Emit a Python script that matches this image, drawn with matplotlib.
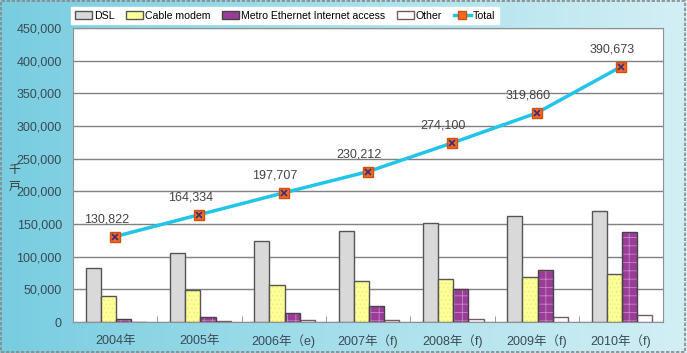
import numpy as np
import matplotlib
matplotlib.use("Agg")
import matplotlib.pyplot as plt
from matplotlib.patches import Patch, Rectangle
from matplotlib.lines import Line2D
from matplotlib.ticker import FuncFormatter
from matplotlib.colors import LinearSegmentedColormap

plt.rcParams["font.family"] = ["Liberation Sans", "Noto Sans CJK JP", "DejaVu Sans"]
plt.rcParams["hatch.linewidth"] = 0.6

years = ["2004年", "2005年", "2006年（e)", "2007年（f)", "2008年（f)", "2009年（f)", "2010年（f)"]
dsl = [82500, 105000, 123400, 138800, 151600, 161800, 169500]
cable = [40000, 48700, 56300, 62000, 66000, 69000, 73200]
metro = [4600, 7700, 13800, 24500, 50200, 80000, 137200]
other = [500, 1500, 3000, 3500, 5100, 7200, 10700]
total = [130822, 164334, 197707, 230212, 274100, 319860, 390673]

series = [
    ("DSL", dsl, "#d9d9d9", None, None, "#555555"),
    ("Cable modem", cable, "#ffff99", "....", "#eeee77", "#555555"),
    ("Metro Ethernet Internet access", metro, "#9a3c98", "++", "#c58ac5", "#444444"),
    ("Other", other, "#ffffff", None, None, "#7a5a6a"),
]

fig = plt.figure(figsize=(6.87, 3.53), dpi=100)

# background gradient
bg = fig.add_axes([0, 0, 1, 1], zorder=-10)
grad = np.linspace(0, 1, 256).reshape(1, -1)
cmap = LinearSegmentedColormap.from_list("bg", ["#78cde0", "#a6dfeb", "#d3eff5"])
bg.imshow(grad, aspect="auto", cmap=cmap, extent=[0, 1, 0, 1])
bg.add_patch(Rectangle((0.002, 0.003), 0.995, 0.993, fill=False, ec="#888888",
                       ls=(0, (2, 1)), lw=1.2, transform=bg.transAxes))
bg.axis("off")

ax = fig.add_axes([0.1063, 0.0878, 0.859, 0.833])
ax.set_facecolor("white")
x = np.arange(len(years))
w = 0.18
for i, (name, vals, fc, hatch, hc, ec) in enumerate(series):
    pos = x + (i - 1.5) * w + 0.01
    if hatch:
        ax.bar(pos, vals, w, color=fc, hatch=hatch, edgecolor=hc, linewidth=0, zorder=3)
        ax.bar(pos, vals, w, fill=False, edgecolor=ec, linewidth=1, zorder=4)
    else:
        ax.bar(pos, vals, w, color=fc, edgecolor=ec, linewidth=1, zorder=3)

ax.plot(x, total, color="#22c4e8", lw=2.5, zorder=5)
ax.plot(x, total, "s", color="#f26b21", ms=7, mec="#d05010", zorder=6)
ax.plot(x, total, "x", color="#3a2a80", ms=5, mew=1.2, zorder=7)
for xi, t in zip(x, total):
    ax.annotate(f"{t:,}", (xi, t), xytext=(-9, 11), textcoords="offset pixels",
                ha="center", va="bottom", fontsize=9, color="#444444")

ax.set_xlim(-0.5, len(years) - 0.5)
ax.set_ylim(0, 450000)
ax.set_yticks(np.arange(0, 450001, 50000))
ax.yaxis.set_major_formatter(FuncFormatter(lambda v, p: f"{int(v):,}"))
ax.grid(axis="y", color="#808080", lw=1, zorder=1)
ax.set_xticks(x)
ax.set_xticklabels(years)
ax.set_xticks(np.arange(0.5, len(years) - 0.5), minor=True)
ax.tick_params(axis="x", which="major", length=0, pad=9, labelsize=9, labelcolor="#3a4a55")
ax.tick_params(axis="x", which="minor", length=4, direction="in", color="#888888")
ax.tick_params(axis="y", length=0, pad=8, labelsize=9, labelcolor="#3a4a55")
for s in ax.spines.values():
    s.set_color("#909090")

fig.text(0.012, 0.495, "千\n戸", fontsize=8.5, color="#333333", va="center", ha="left",
         linespacing=1.5)

handles = [Patch(facecolor=fc, edgecolor=ec) for _, _, fc, _, _, ec in series]
handles.append(Line2D([0], [0], color="#22c4e8", lw=2.5, marker="s", mfc="#f26b21",
                      mec="#d05010", ms=6))
labels = [s[0] for s in series] + ["Total"]
fig.legend(handles, labels, loc="upper center", bbox_to_anchor=(0.415, 0.995),
           ncol=5, fontsize=7.6, frameon=True, fancybox=False, framealpha=1,
           edgecolor="white", handlelength=1.6, handleheight=0.8, handletextpad=0.2,
           columnspacing=1.1, borderpad=0.35)

fig.savefig("out.png", dpi=100)
